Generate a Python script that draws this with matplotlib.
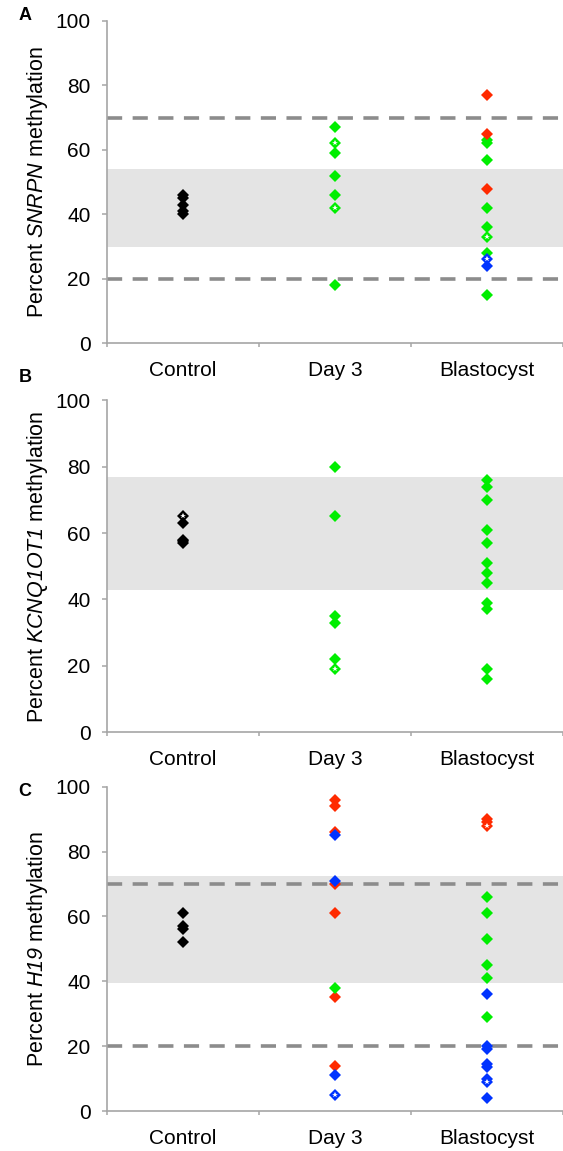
import matplotlib.pyplot as plt

plt.rcParams['font.family'] = 'Liberation Sans'
plt.rcParams['mathtext.fontset'] = 'custom'
# gene names are fully italic, digits included
plt.rcParams['mathtext.rm'] = 'Liberation Sans:italic'
plt.rcParams['mathtext.it'] = 'Liberation Sans:italic'

categories = ['Control', 'Day 3', 'Blastocyst']

# A: SNRPN
snrpn_control = [46, 45, 43, 41, 40]
snrpn_day3_green = [67, 59, 52, 46, 18]
snrpn_day3_green_open = [62, 42]
snrpn_blast_red = [77, 65, 48]
snrpn_blast_green = [63, 62, 57, 42, 36, 28, 15]
snrpn_blast_green_open = [33]
snrpn_blast_blue = [24]
snrpn_blast_blue_open = [26]
snrpn_band = (30, 54)
snrpn_cutoffs = [20, 70]

# B: KCNQ1OT1
kcnq_control = [63, 58, 57.5, 57]
kcnq_control_open = [65]
kcnq_day3_green = [80, 65, 35, 33, 22]
kcnq_day3_green_open = [19]
kcnq_blast_green = [76, 74, 70, 61, 57, 51, 48, 45, 39, 37, 19, 16]
kcnq_band = (43, 77)

# C: H19
h19_control = [61, 57, 56, 52]
h19_day3_red = [96, 94, 86, 70, 61, 35, 14]
h19_day3_blue = [85, 71, 11]
h19_day3_blue_open = [5]
h19_day3_green = [38]
h19_blast_red = [90, 89]
h19_blast_red_open = [88]
h19_blast_green = [66, 61, 53, 45, 41, 29]
h19_blast_blue = [36, 20, 19, 14.5, 13.5, 10, 4]
h19_blast_blue_open = [9]
h19_band = (39.5, 72.5)
h19_cutoffs = [20, 70]

BLACK = '#000000'
GREEN = '#00ee00'
RED = '#ff2a00'
BLUE = '#0033ff'
AXCOL = '#a6a6a6'


def dots(ax, x, values, color, open_=False):
    ax.plot([x] * len(values), values, linestyle='none', marker='D',
            ms=6.6, mew=0, color=color, zorder=3)
    if open_:
        ax.plot([x] * len(values), values, linestyle='none', marker='*',
                ms=4.2, mew=0, color='white', zorder=4)


def setup(ax, band, cutoffs, ylabel):
    ax.set_xlim(-0.5, -0.5 + 456.3 / 155.8)
    ax.set_ylim(0, 100)
    ax.axhspan(band[0], band[1], color='#e4e4e4', lw=0, zorder=0)
    for c in cutoffs:
        ax.axhline(c, color='#8c8c8c', lw=2.6, dashes=(4.2, 2.9), zorder=1)
    for s in ['top', 'right']:
        ax.spines[s].set_visible(False)
    for s in ['left', 'bottom']:
        ax.spines[s].set_color(AXCOL)
        ax.spines[s].set_linewidth(1.2)
    ax.set_yticks([0, 20, 40, 60, 80, 100])
    ax.tick_params(axis='y', length=3.6, width=1.1, color=AXCOL, pad=8,
                   labelsize=15)
    ax.set_xticks([0, 1, 2])
    ax.set_xticklabels(categories)
    ax.set_xticks([-0.5, 0.5, 1.5, 2.5], minor=True)
    ax.tick_params(axis='x', which='major', length=0, pad=13, labelsize=15)
    ax.tick_params(axis='x', which='minor', length=3, width=1.1, color=AXCOL)
    ax.set_ylabel(ylabel, fontsize=15.5)
    ax.yaxis.set_label_coords(-0.124, 0.5)


fig = plt.figure(figsize=(5.63, 11.51), dpi=100)
left = 106.7 / 563
ax_a = fig.add_axes([left, 0.70174, 1 - left, 0.28002])
ax_b = fig.add_axes([left, 0.36377, 1 - left, 0.28845])
ax_c = fig.add_axes([left, 0.03475, 1 - left, 0.28176])

setup(ax_a, snrpn_band, snrpn_cutoffs, 'Percent $\\mathrm{SNRPN}$ methylation')
dots(ax_a, 0, snrpn_control, BLACK)
dots(ax_a, 1, snrpn_day3_green, GREEN)
dots(ax_a, 1, snrpn_day3_green_open, GREEN, True)
dots(ax_a, 2, snrpn_blast_green, GREEN)
dots(ax_a, 2, snrpn_blast_green_open, GREEN, True)
dots(ax_a, 2, snrpn_blast_red, RED)
dots(ax_a, 2, snrpn_blast_blue, BLUE)
dots(ax_a, 2, snrpn_blast_blue_open, BLUE, True)

setup(ax_b, kcnq_band, [], 'Percent $\\mathrm{KCNQ1OT1}$ methylation')
dots(ax_b, 0, kcnq_control, BLACK)
dots(ax_b, 0, kcnq_control_open, BLACK, True)
dots(ax_b, 1, kcnq_day3_green, GREEN)
dots(ax_b, 1, kcnq_day3_green_open, GREEN, True)
dots(ax_b, 2, kcnq_blast_green, GREEN)

setup(ax_c, h19_band, h19_cutoffs, 'Percent $\\mathrm{H19}$ methylation')
dots(ax_c, 0, h19_control, BLACK)
dots(ax_c, 1, h19_day3_red, RED)
dots(ax_c, 1, h19_day3_green, GREEN)
dots(ax_c, 1, h19_day3_blue, BLUE)
dots(ax_c, 1, h19_day3_blue_open, BLUE, True)
dots(ax_c, 2, h19_blast_red, RED)
dots(ax_c, 2, h19_blast_red_open, RED, True)
dots(ax_c, 2, h19_blast_green, GREEN)
dots(ax_c, 2, h19_blast_blue, BLUE)
dots(ax_c, 2, h19_blast_blue_open, BLUE, True)

for letter, ypx in [('A', 15), ('B', 377), ('C', 791)]:
    fig.text(25 / 563, 1 - ypx / 1151, letter, ha='center', va='center',
             fontsize=13, fontweight='bold')

fig.savefig('out.png', dpi=100)
